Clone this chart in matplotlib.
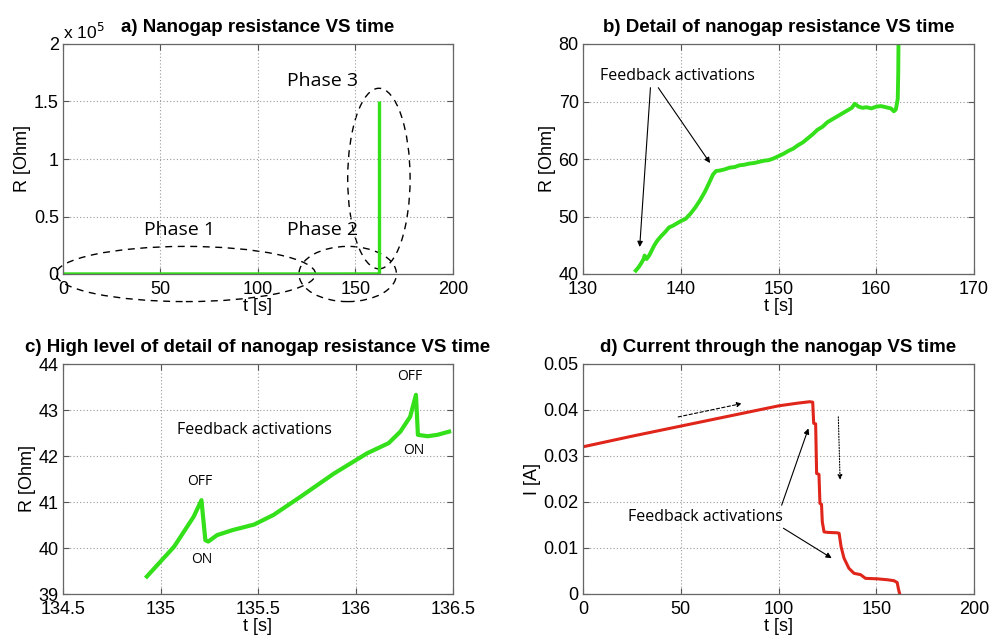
import matplotlib
matplotlib.use("Agg")
import matplotlib.pyplot as plt
from matplotlib.patches import Ellipse
from matplotlib.ticker import FuncFormatter

# ---------------- data ----------------
# a) full resistance trace (Ohm)
a_t = [0, 20, 50, 100, 135, 150, 160, 162, 162.3, 162.3]
a_R = [40, 40, 40, 45, 40, 60, 69, 69, 80, 150000]
a_xticks = [0, 50, 100, 150, 200]
a_yticks = [0, 50000, 100000, 150000, 200000]

# b) detail of resistance (Ohm)
b_t = [135.4, 135.7, 136.0, 136.2, 136.3, 136.5, 136.8, 137.0, 137.3, 137.6,
       138.0, 138.4, 138.8, 139.2, 139.6, 140.0, 140.5, 141.0, 141.5, 142.0,
       142.5, 143.0, 143.3, 143.6, 144.0, 144.5, 145.0, 145.5, 146.0, 146.5,
       147.0, 147.5, 148.0, 148.5, 149.0, 149.5, 150.0, 150.5, 151.0, 151.5,
       152.0, 152.5, 153.0, 153.5, 154.0, 154.5, 155.0, 155.5, 156.0, 156.5,
       157.0, 157.5, 157.8, 158.2, 158.6, 159.0, 159.5, 160.0, 160.5, 161.0,
       161.5, 161.8, 162.0, 162.1, 162.2, 162.25, 162.3]
b_R = [40.6, 41.2, 42.0, 42.6, 43.2, 42.6, 43.3, 44.0, 45.0, 45.8,
       46.6, 47.3, 48.1, 48.4, 48.8, 49.2, 49.6, 50.5, 51.6, 52.9,
       54.4, 56.2, 57.3, 57.9, 58.0, 58.2, 58.5, 58.6, 58.9, 59.0,
       59.2, 59.3, 59.5, 59.7, 59.8, 60.1, 60.5, 60.9, 61.4, 61.8,
       62.4, 62.9, 63.6, 64.3, 65.1, 65.6, 66.4, 66.9, 67.4, 67.9,
       68.4, 68.9, 69.6, 69.1, 68.9, 69.0, 68.8, 69.1, 69.2, 69.0,
       68.8, 68.3, 68.6, 69.5, 70.5, 75.0, 85.0]
b_xticks = [130, 140, 150, 160, 170]
b_yticks = [40, 50, 60, 70, 80]

# c) high level of detail (Ohm)
c_t = [134.93, 135.07, 135.17, 135.21, 135.23, 135.245, 135.29, 135.37,
       135.48, 135.58, 135.72, 135.89, 136.06, 136.17, 136.23, 136.28,
       136.31, 136.32, 136.37, 136.42, 136.48]
c_R = [39.38, 40.03, 40.68, 41.04, 40.17, 40.14, 40.28, 40.39,
       40.51, 40.72, 41.12, 41.62, 42.06, 42.28, 42.53, 42.85,
       43.33, 42.46, 42.43, 42.46, 42.53]
c_xticks = [134.5, 135, 135.5, 136, 136.5]
c_yticks = [39, 40, 41, 42, 43, 44]

# d) current (A)
d_t = [0, 25, 50, 75, 100, 110, 116, 117.5, 118, 119, 119.5, 120.7, 121.2,
       122, 122.4, 123.3, 125, 130, 131, 132, 133.5, 136, 138.6, 142,
       144.5, 150.5, 155.6, 159, 160.7, 161.3, 162]
d_I = [0.0320, 0.0343, 0.0365, 0.0387, 0.0409, 0.0415, 0.0418, 0.0417,
       0.0371, 0.0370, 0.0262, 0.0260, 0.0197, 0.0195, 0.0157, 0.0135,
       0.0134, 0.0133, 0.0132, 0.0103, 0.0078, 0.0056, 0.0045, 0.0042,
       0.0034, 0.0033, 0.0031, 0.0029, 0.0025, 0.0012, 0.0]
d_xticks = [0, 50, 100, 150, 200]
d_yticks = [0, 0.01, 0.02, 0.03, 0.04, 0.05]

# ---------------- style ----------------
GREEN = "#33e01a"
RED = "#e0251a"
TFONT = ["Liberation Sans", "DejaVu Sans"]
AFONT = ["Open Sans", "DejaVu Sans"]

plt.rcParams["font.family"] = TFONT
plt.rcParams["xtick.direction"] = "in"
plt.rcParams["ytick.direction"] = "in"

fig = plt.figure(figsize=(9.9, 6.4), dpi=100)
W, H = 990, 640


def mk_ax(l, t, r, b):
    return fig.add_axes([l / W, 1 - b / H, (r - l) / W, (b - t) / H])


def style(ax, xt, yt, xl, yl, title):
    ax.set_xticks(xt)
    ax.set_yticks(yt)
    ax.set_xlim(xt[0], xt[-1])
    ax.set_ylim(yt[0], yt[-1])
    ax.grid(True, linestyle=(0, (1, 2)), color="#9a9a9a", linewidth=0.8)
    ax.tick_params(labelsize=13, length=4, color="#555555", top=True, right=True)
    ax.tick_params(axis="x", pad=5)
    ax.tick_params(axis="y", pad=3)
    for s in ax.spines.values():
        s.set_color("#666666")
        s.set_linewidth(0.9)
    ax.set_xlabel(xl, fontsize=13, labelpad=0)
    ax.set_ylabel(yl, fontsize=13, labelpad=2)
    ax.set_title(title, fontsize=13.5, fontweight="bold", pad=9)


# ---------- a ----------
axa = mk_ax(63, 44, 453, 274)
axa.plot(a_t, a_R, color=GREEN, lw=2.4, solid_capstyle="butt")
style(axa, a_xticks, a_yticks, "t [s]", "R [Ohm]", "a) Nanogap resistance VS time")
axa.yaxis.set_major_formatter(FuncFormatter(lambda v, p: "%g" % (v / 1e5)))
axa.text(0.0, 1.01, "x 10$^5$", transform=axa.transAxes, fontsize=12.5, ha="left", va="bottom")
for (cx, cy, w, h, ang) in [(63, 0, 133, 48000, 0), (146, 0, 50, 48000, 0), (162, 83000, 32, 157000, 0)]:
    axa.add_patch(Ellipse((cx, cy), w, h, angle=ang, fill=False, ls=(0, (5, 4)),
                          lw=1.0, color="black", clip_on=False))
axa.text(60, 38000, "Phase 1", fontsize=14, family=AFONT, ha="center", va="center")
axa.text(133, 38000, "Phase 2", fontsize=14, family=AFONT, ha="center", va="center")
axa.text(133, 168000, "Phase 3", fontsize=14, family=AFONT, ha="center", va="center")

# ---------- b ----------
axb = mk_ax(583, 44, 974, 274)
axb.plot(b_t, b_R, color=GREEN, lw=2.8)
style(axb, b_xticks, b_yticks, "t [s]", "R [Ohm]", "b) Detail of nanogap resistance VS time")
axb.text(131.7, 74.4, "Feedback activations", fontsize=11.5, family=AFONT, ha="left", va="center")
for (x0, y0, x1, y1) in [(136.9, 72.4, 135.8, 44.7), (137.7, 72.4, 143.0, 59.3)]:
    axb.annotate("", xy=(x1, y1), xytext=(x0, y0),
                 arrowprops=dict(arrowstyle="-|>", color="black", lw=0.8,
                                 mutation_scale=8, shrinkA=0, shrinkB=0))

# ---------- c ----------
axc = mk_ax(63, 364, 453, 594)
axc.plot(c_t, c_R, color=GREEN, lw=3.0)
style(axc, c_xticks, c_yticks, "t [s]", "R [Ohm]",
      "c) High level of detail of nanogap resistance VS time")
axc.xaxis.set_major_formatter(FuncFormatter(lambda v, p: "%g" % v))
axc.text(135.48, 42.57, "Feedback activations", fontsize=11.5, family=AFONT, ha="center", va="center")
axc.text(135.2, 41.44, "OFF", fontsize=10, family=AFONT, ha="center", va="center")
axc.text(135.21, 39.74, "ON", fontsize=10, family=AFONT, ha="center", va="center")
axc.text(136.28, 43.72, "OFF", fontsize=10, family=AFONT, ha="center", va="center")
axc.text(136.30, 42.12, "ON", fontsize=10, family=AFONT, ha="center", va="center")

# ---------- d ----------
axd = mk_ax(583, 364, 974, 594)
axd.plot(d_t, d_I, color=RED, lw=2.2)
style(axd, d_xticks, d_yticks, "t [s]", "I [A]", "d) Current through the nanogap VS time")
axd.yaxis.set_major_formatter(FuncFormatter(lambda v, p: "%g" % v))
axd.text(62.4, 0.0168, "Feedback activations", fontsize=11.5, family=AFONT, ha="center", va="center")
for (x0, y0, x1, y1) in [(101.6, 0.0193, 115.3, 0.036), (102.5, 0.0143, 127.2, 0.0078)]:
    axd.annotate("", xy=(x1, y1), xytext=(x0, y0),
                 arrowprops=dict(arrowstyle="-|>", color="black", lw=0.8,
                                 mutation_scale=8, shrinkA=0, shrinkB=0))
axd.annotate("", xy=(81.2, 0.0414), xytext=(48.7, 0.0385),
             arrowprops=dict(arrowstyle="-|>", color="black", lw=0.8, ls=(0, (3, 2)),
                             mutation_scale=7, shrinkA=0, shrinkB=0))
axd.annotate("", xy=(131.5, 0.0248), xytext=(130.6, 0.0385),
             arrowprops=dict(arrowstyle="-|>", color="black", lw=0.8, ls=(0, (1, 1.5)),
                             mutation_scale=7, shrinkA=0, shrinkB=0))

fig.savefig("out.png", dpi=100)
